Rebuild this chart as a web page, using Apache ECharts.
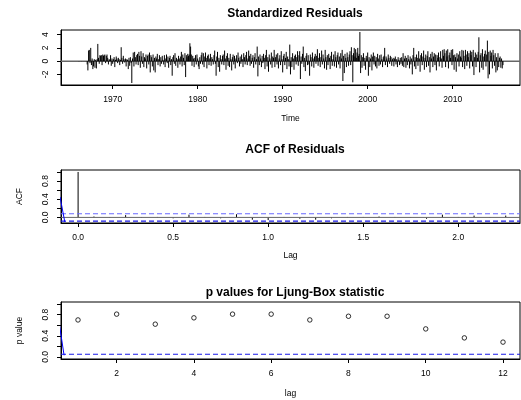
<!DOCTYPE html>
<html><head><meta charset="utf-8">
<script src="https://cdn.jsdelivr.net/npm/echarts@6/dist/echarts.min.js"></script>
<style>html,body{margin:0;padding:0;background:#fff}#c{width:521px;height:400px}</style>
</head><body><div id="c"></div>
<script>
// ---------- data ----------
const startYear = 1966;
const resid = [
 0.02,-0.01,0.01,0.00,-0.02,0.01,0.00,0.01,-0.01,0.00,0.02,-0.01,
 -0.5,-1.4,1.6,1.7,-0.3,2.0,-0.6,0.4,-1.2,-0.8,0.3,-1.0,
 0.2,-1.1,0.3,2.6,0.5,-0.4,0.9,0.8,0.9,-0.6,1.0,0.8,
 0.9,1.0,-0.3,0.8,1.0,0.5,-0.5,0.3,0.2,0.9,-0.7,0.4,
 -0.4,0.3,0.6,-0.9,0.2,0.7,0.4,-0.3,0.5,0.3,-0.6,0.2,
 2.1,0.5,-0.4,0.8,0.3,-0.2,0.4,-0.8,0.3,0.2,-1.2,0.5,
 -0.7,0.6,-0.3,-3.3,0.4,1.3,-0.8,1.4,0.6,-0.5,0.9,1.1,
 -0.6,1.4,0.8,-1.0,1.5,0.7,-0.4,1.2,-0.9,0.6,0.4,1.0,
 -1.1,0.8,1.0,-0.5,1.3,-1.7,0.9,0.6,-0.8,1.0,-1.4,0.5,
 -1.7,0.7,0.4,1.1,-0.6,0.3,0.9,-0.8,0.6,-0.4,0.8,0.2,
 -0.5,0.9,-0.9,0.4,1.0,-0.3,0.7,-1.0,0.5,0.8,-0.6,0.3,
 -2.2,0.6,0.9,-0.4,1.2,-0.7,0.5,0.3,-1.0,0.8,0.4,-0.5,
 0.7,1.4,-0.8,1.0,0.5,-0.6,1.2,-2.4,0.9,0.6,1.1,0.8,
 1.0,2.7,2.2,1.0,-0.7,0.8,0.4,-0.9,0.5,0.9,-0.5,1.0,
 0.4,-0.8,-1.2,0.6,-0.4,0.9,1.3,-0.5,1.2,-0.9,0.7,1.3,
 0.5,-1.1,0.8,1.0,-0.6,0.4,1.1,-0.7,0.6,0.3,-0.5,0.9,
 1.6,-0.4,-2.2,0.7,1.4,-0.9,0.5,-1.6,0.9,0.3,-0.5,0.8,
 1.0,-0.6,1.6,0.4,-1.3,0.8,1.2,-0.7,0.5,-0.9,1.1,0.3,
 -1.4,0.6,1.0,-0.5,0.8,-1.1,0.4,0.9,-0.3,1.3,0.5,-0.8,
 0.7,-0.4,1.0,0.3,-0.9,1.2,0.6,-0.5,0.9,1.4,-0.6,0.4,
 1.6,0.8,-0.7,1.1,-0.4,0.5,0.9,-1.0,0.6,1.2,-0.5,0.3,
 2.2,-2.3,0.7,-0.6,1.0,0.4,-0.9,0.8,-0.3,1.1,0.5,-1.2,
 0.9,1.7,-0.8,0.6,-1.6,1.0,0.4,-0.5,1.3,-1.0,0.7,0.5,
 1.7,-0.9,0.6,1.0,-0.5,1.2,-1.1,0.4,0.9,-0.6,1.5,0.3,
 -1.7,0.8,1.1,-0.6,0.5,1.4,-1.2,0.7,0.3,-0.8,2.5,-2.0,
 0.6,-0.9,1.2,0.4,-1.3,0.8,1.0,-0.5,0.6,1.5,-0.7,0.9,
 1.5,-2.7,0.7,-0.4,1.1,2.2,-0.9,0.5,-1.5,0.8,1.2,-0.6,
 0.9,-0.5,-2.2,1.0,0.6,-0.8,1.3,0.4,-1.0,0.7,1.1,-0.4,
 0.8,1.8,-0.7,0.5,1.2,-0.9,0.6,1.6,-0.5,1.0,0.4,-1.1,
 1.7,0.6,-1.3,0.9,-0.6,1.1,0.5,-1.2,0.8,1.4,-0.7,0.3,
 1.0,-0.8,1.5,0.6,-1.0,0.9,1.3,-0.5,0.7,-1.1,1.2,0.4,
 1.7,-3.0,0.8,-1.8,1.1,0.5,-0.9,1.3,0.6,-0.7,1.0,1.5,
 -0.6,2.1,0.9,-3.2,1.2,2.0,0.7,1.8,0.5,1.3,2.0,0.8,
 1.1,4.4,-1.8,0.9,-1.0,0.6,1.2,-0.7,0.5,-1.3,0.8,0.4,
 1.3,-2.2,0.6,-0.9,0.4,1.0,-1.4,0.7,1.3,-0.5,0.8,-0.8,
 0.6,-1.1,1.1,0.4,-0.7,0.9,-0.5,1.0,0.3,-0.9,0.6,0.8,
 2.0,-0.6,0.7,0.4,-0.9,1.0,0.5,-0.4,0.8,0.6,-0.7,0.3,
 0.5,-0.8,0.4,0.7,-0.5,0.3,-0.9,0.6,0.2,-0.6,0.5,-0.4,
 0.6,-0.7,1.2,-0.9,0.4,0.8,-1.0,0.5,-0.6,0.9,0.3,-1.1,
 0.7,-0.5,0.4,-2.0,0.9,2.0,-0.8,0.6,-1.2,1.0,0.5,-0.7,
 1.5,0.4,-1.6,0.9,1.2,-0.6,0.7,1.6,-1.3,0.5,1.0,-0.9,
 0.8,1.5,-0.7,0.6,-1.7,1.1,0.4,1.4,-0.9,0.7,1.2,-0.6,
 1.0,-1.4,0.9,0.5,1.3,-0.8,0.6,1.5,0.4,-1.0,1.7,0.8,
 1.8,1.2,-0.9,1.6,0.7,1.8,-1.1,0.9,1.3,0.5,1.7,-0.6,
 1.8,0.9,-1.3,1.0,0.6,-1.6,1.2,0.4,1.0,-0.8,1.5,0.7,
 0.5,1.7,-0.9,1.6,0.8,-1.2,1.7,1.0,-0.7,1.5,0.6,1.2,
 -1.1,1.6,0.9,1.4,-0.8,1.7,-2.1,0.6,1.3,-0.9,1.0,0.5,
 1.4,3.6,-1.7,0.9,1.2,-1.0,1.8,-1.3,0.7,1.1,1.6,-0.8,
 1.0,3.1,-2.6,1.4,-2.0,1.6,0.8,1.3,-1.1,1.7,0.9,-0.7,
 1.2,-1.7,0.6,-1.4,1.2,-0.9,0.5,0.7,-1.0,0.4,-1.1,-0.6
];
const residTicks = [-2, 0, 2, 4];
const yearTicks = [1970, 1980, 1990, 2000, 2010];

const acfLagsPerYear = 12;
const acfVals = [1.00, 0.02, -0.01, 0.05, -0.01, 0.01, -0.02, 0.06, 0.01, -0.02, 0.07, -0.05, -0.06, 0.01,
                 -0.03, -0.05, -0.02, 0.01, 0.01, 0.02, 0.01, -0.01, -0.03, 0.06, 0.01, 0.04, -0.01, 0.04];
const acfCI = 0.08;
const acfTicks = [0, 0.2, 0.4, 0.6, 0.8, 1.0];
const acfLabels = [0, 0.4, 0.8];
const lagTicks = [0, 0.5, 1.0, 1.5, 2.0];
const acfBlueLine = [[-0.095, 0.45], [-0.07, -0.10]];

const lbLags = [1, 2, 3, 4, 5, 6, 7, 8, 9, 10, 11, 12];
const lbP = [0.70, 0.81, 0.62, 0.74, 0.81, 0.81, 0.70, 0.77, 0.77, 0.53, 0.36, 0.28];
const lbCut = 0.05;
const lbTicks = [2, 4, 6, 8, 10, 12];
const pBlueLine = [[0.50, 0.70], [0.64, 0.03]];

// ---------- build ----------
const FONT = "'Liberation Sans', Arial, Helvetica, sans-serif";
const residData = resid.map((v, i) => [startYear + i / 12, v]);
const acfData = acfVals.map((v, i) => [i / acfLagsPerYear, v]);
const lbData = lbLags.map((l, i) => [l, lbP[i]]);

function spikes(params, api) {
  const x = api.value(0), y = api.value(1);
  const p0 = api.coord([x, 0]), p1 = api.coord([x, y]);
  return {type: 'line', shape: {x1: p0[0], y1: p0[1], x2: p1[0], y2: p1[1]},
          style: {stroke: '#000', lineWidth: 1}};
}

const grids = [
  {left: 61, right: 1, top: 30, height: 55},
  {left: 61, right: 1, top: 170, height: 53},
  {left: 61, right: 1, top: 302, height: 57}
].map(g => Object.assign(g, {show: true, borderColor: '#000', borderWidth: 1, backgroundColor: 'transparent'}));

const lblStyle = {fontFamily: FONT, fontSize: 8.5, color: '#000'};
function xAx(gi, min, max, ticks, fmt, name, gap) {
  return {type: 'value', gridIndex: gi, min: min, max: max,
    axisLine: {show: true, onZero: false, lineStyle: {color: '#000'}},
    axisTick: {show: true, length: 4, customValues: ticks, lineStyle: {color: '#000'}},
    axisLabel: Object.assign({customValues: ticks, margin: 10, formatter: fmt}, lblStyle),
    splitLine: {show: false},
    name: name, nameLocation: 'middle', nameGap: gap,
    nameTextStyle: {fontFamily: FONT, fontSize: 8.5, color: '#000'}};
}
function yAx(gi, min, max, ticks, labels, fmt, name) {
  return {type: 'value', gridIndex: gi, min: min, max: max,
    axisLine: {show: true, onZero: false, lineStyle: {color: '#000'}},
    axisTick: {show: true, length: 4, customValues: ticks, lineStyle: {color: '#000'}},
    axisLabel: Object.assign({customValues: labels, margin: 11, rotate: 90, formatter: fmt}, lblStyle),
    splitLine: {show: false},
    name: name, nameLocation: 'middle', nameGap: 37, nameRotate: 90,
    nameTextStyle: {fontFamily: FONT, fontSize: 8.5, color: '#000'}};
}
const f1 = v => v.toFixed(1);

const titleStyle = {fontFamily: FONT, fontSize: 12, fontWeight: 'bold', color: '#000'};
const option = {
  animation: false,
  backgroundColor: '#fff',
  title: [
    {text: 'Standardized Residuals', left: 290, top: 3, textAlign: 'center', textStyle: titleStyle},
    {text: 'ACF of Residuals', left: 290, top: 139, textAlign: 'center', textStyle: titleStyle},
    {text: 'p values for Ljung-Box statistic', left: 290, top: 282, textAlign: 'center', textStyle: titleStyle}
  ],
  grid: grids,
  xAxis: [
    xAx(0, 1963.92, 2017.92, yearTicks, v => String(v), 'Time', 29),
    xAx(1, -0.09, 2.325, lagTicks, f1, 'Lag', 28),
    xAx(2, 0.56, 12.44, lbTicks, v => String(v), 'lag', 30)
  ],
  yAxis: [
    yAx(0, -3.6, 4.7, residTicks, residTicks, v => String(v), ''),
    yAx(1, -0.123, 1.043, acfTicks, acfLabels, f1, 'ACF'),
    yAx(2, -0.04, 1.04, acfTicks, acfLabels, f1, 'p value')
  ],
  series: [
    {type: 'line', xAxisIndex: 0, yAxisIndex: 0, data: [[1963.92, 0], [2017.92, 0]],
     symbol: 'none', lineStyle: {color: '#666', width: 1.5}, silent: true, z: 1},
    {type: 'custom', xAxisIndex: 0, yAxisIndex: 0, data: residData, renderItem: spikes,
     encode: {x: 0, y: 1}, z: 2},
    {type: 'line', xAxisIndex: 1, yAxisIndex: 1, data: [[-0.09, 0], [2.325, 0]],
     symbol: 'none', lineStyle: {color: '#666', width: 1}, silent: true},
    {type: 'line', xAxisIndex: 1, yAxisIndex: 1, data: [[-0.09, acfCI], [2.325, acfCI]],
     symbol: 'none', lineStyle: {color: '#6a6aff', width: 1.2, type: [5, 3]}, silent: true},
    {type: 'line', xAxisIndex: 1, yAxisIndex: 1, data: [[-0.09, -acfCI], [2.325, -acfCI]],
     symbol: 'none', lineStyle: {color: '#1a1ae6', width: 1.2, type: [5, 3]}, silent: true},
    {type: 'custom', xAxisIndex: 1, yAxisIndex: 1, data: acfData, renderItem: spikes,
     encode: {x: 0, y: 1}, z: 3},
    {type: 'line', xAxisIndex: 1, yAxisIndex: 1, data: acfBlueLine, clip: true,
     symbol: 'none', lineStyle: {color: '#0000ff', width: 1}, silent: true},
    {type: 'line', xAxisIndex: 2, yAxisIndex: 2, data: [[0.56, lbCut], [12.44, lbCut]],
     symbol: 'none', lineStyle: {color: '#1a1ae6', width: 1.2, type: [5, 3]}, silent: true},
    {type: 'line', xAxisIndex: 2, yAxisIndex: 2, data: pBlueLine, clip: true,
     symbol: 'none', lineStyle: {color: '#0000ff', width: 1}, silent: true},
    {type: 'scatter', xAxisIndex: 2, yAxisIndex: 2, data: lbData, symbol: 'circle', symbolSize: 4.5,
     itemStyle: {color: '#fff', borderColor: '#000', borderWidth: 1}, z: 4}
  ]
};
const chart = echarts.init(document.getElementById('c'), null, {renderer: 'canvas'});
chart.setOption(option);
</script></body></html>
